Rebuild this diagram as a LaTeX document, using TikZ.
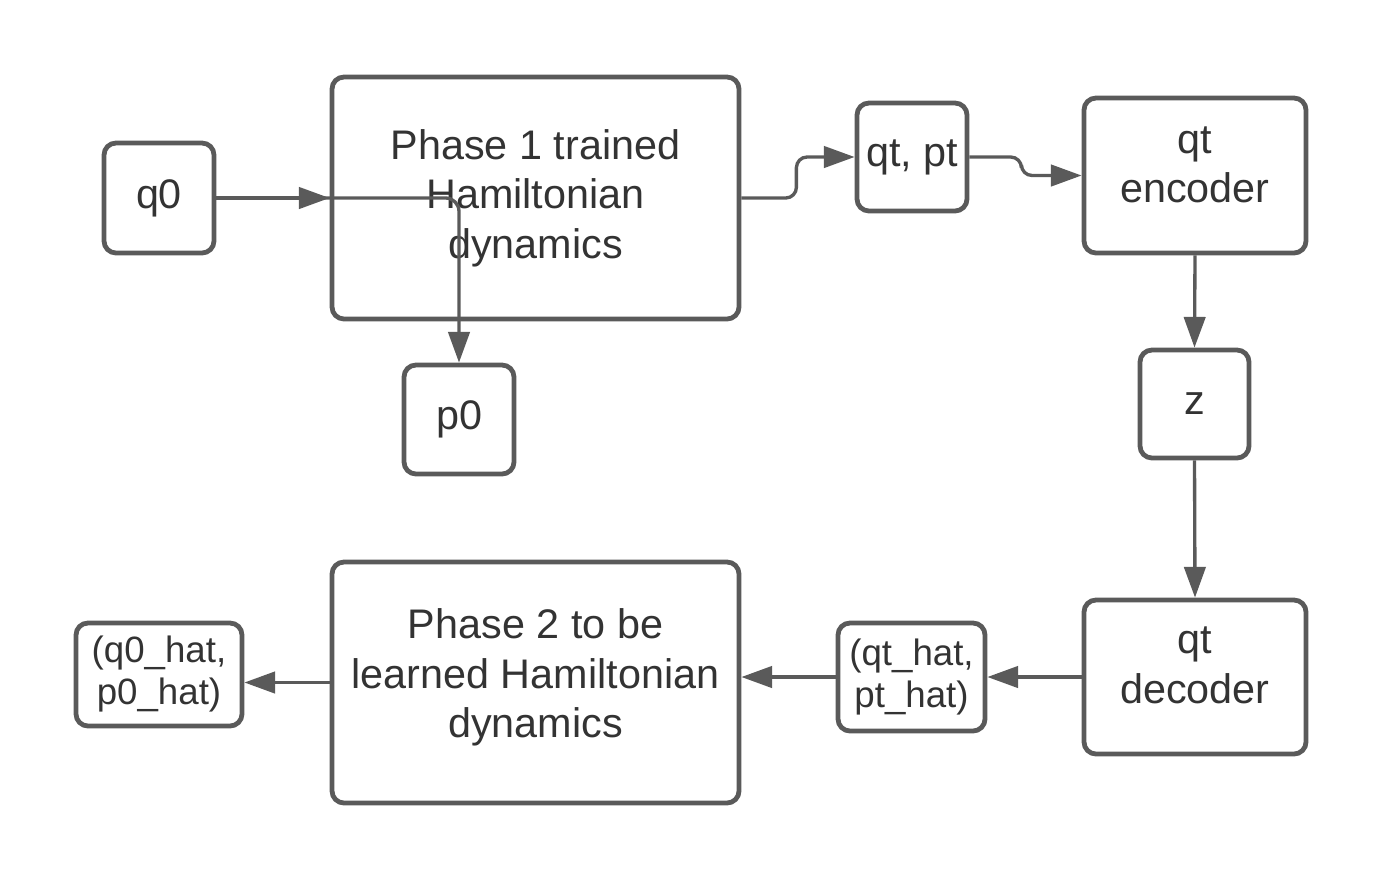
\documentclass[tikz,border=0pt]{standalone}
\usepackage{fontspec}
\setmainfont{Liberation Sans}
\usetikzlibrary{arrows.meta}
\definecolor{ln}{HTML}{5A5A5A}
\definecolor{tx}{HTML}{333333}
\begin{document}
\begin{tikzpicture}[x=0.75pt,y=-0.75pt,
  box/.style={draw=ln, line width=3.6pt, rounded corners=9pt, inner sep=0pt, align=center, text=tx,
    font=\fontsize{31}{37}\selectfont},
  sbox/.style={box, font=\fontsize{27.5}{31.5}\selectfont},
  sz/.style 2 args={minimum width={#1*0.75pt}, minimum height={#2*0.75pt}},
  conn/.style={draw=ln, line width=2.5pt, -{Triangle[length=23pt,width=16pt]}}]
\useasboundingbox (0,0) rectangle (1384,879);
\node[box, sz={110}{110}] (q0) at (159,198) {q0};
\node[box, sz={407}{242}] (p1) at (535.5,198) {Phase 1 trained\\Hamiltonian\\dynamics};
\node[box, sz={110}{109}] (p0) at (459,419.5) {p0};
\node[box, sz={110}{108}] (qtpt) at (912,157) {qt, pt};
\node[box, sz={222}{155}, text depth=16.5pt] (enc) at (1195,175.5) {qt\\encoder};
\node[box, sz={109}{108}] (z) at (1194.5,404) {z};
\node[box, sz={222}{154}, text depth=18pt] (dec) at (1195,677) {qt\\decoder};
\node[sbox, sz={147}{108}] (qth) at (911.5,677) {(qt\_hat,\\pt\_hat)};
\node[box, sz={407}{241}, text depth=14pt] (p2) at (535.5,682.5) {Phase 2 to be\\learned Hamiltonian\\dynamics};
\node[sbox, sz={166}{103}] (q0h) at (159,674.5) {(q0\_hat,\\p0\_hat)};

\draw[conn] (q0.east) -- (p1.west);
\draw[conn, rounded corners=10pt] (q0.east) -| (p0.north);
\draw[conn, rounded corners=8pt] (p1.east) -- ++(55,0) |- (qtpt.west);
\draw[conn, rounded corners=8pt] (qtpt.east) -- ++(52,0) |- (enc.west);
\draw[conn] (enc.south) -- (z.north);
\draw[conn] (z.south) -- (dec.north);
\draw[conn] (dec.west) -- (qth.east);
\draw[conn] (qth.west) -- (p2.east |- qth.west);
\draw[conn] (p2.west) -- (q0h.east |- p2.west);
\end{tikzpicture}
\end{document}
